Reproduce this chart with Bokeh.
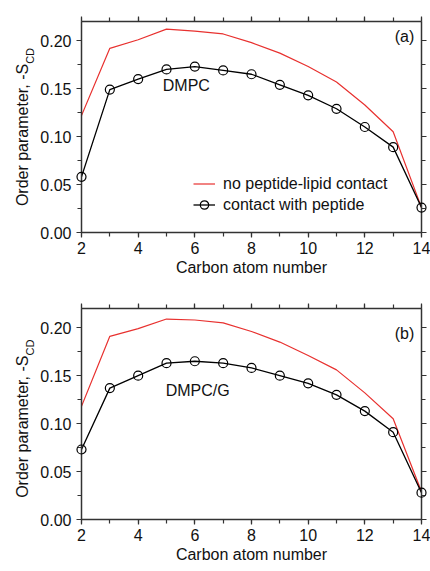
import math
from bokeh.plotting import figure
from bokeh.layouts import column, row
from bokeh.models import (Range1d, LinearAxis, SingleIntervalTicker, NumeralTickFormatter,
                          CustomJSTickFormatter, Label, Legend, LegendItem)
from bokeh.core.properties import value
from bokeh.embed import file_html
from bokeh.resources import INLINE

carbon = [2, 3, 4, 5, 6, 7, 8, 9, 10, 11, 12, 13, 14]

# panel (a) DMPC
a_no_contact = [0.122, 0.192, 0.201, 0.212, 0.210, 0.207, 0.198, 0.187, 0.173, 0.157, 0.133, 0.105, 0.026]
a_contact = [0.058, 0.149, 0.160, 0.170, 0.173, 0.169, 0.165, 0.154, 0.143, 0.129, 0.110, 0.089, 0.026]

# panel (b) DMPC/G
b_no_contact = [0.118, 0.191, 0.199, 0.209, 0.208, 0.205, 0.196, 0.185, 0.171, 0.156, 0.132, 0.105, 0.029]
b_contact = [0.073, 0.137, 0.150, 0.163, 0.165, 0.163, 0.158, 0.150, 0.142, 0.130, 0.113, 0.091, 0.028]

legend_labels = ["no peptide-lipid contact", "contact with peptide"]
x_label = "Carbon atom number"
y_label_main = "Order parameter, -S"
y_label_sub = "CD"

FONT = "Liberation Sans"
AX = "#333333"
TXT = "#111111"
RED = "#e8312f"
FS = "16px"

LAB_W = 36
FRAME_W, FRAME_H = 340, 211
BOTTOM = 47


def style_axis(ax, labels=True):
    ax.axis_line_color = AX
    ax.axis_line_width = 1.5
    ax.major_tick_line_color = AX
    ax.minor_tick_line_color = AX
    ax.major_tick_in = 0
    ax.major_tick_out = 5
    ax.minor_tick_in = 0
    ax.minor_tick_out = 4
    ax.major_tick_line_width = 1.2
    ax.minor_tick_line_width = 1.2
    ax.major_label_text_font = FONT
    ax.major_label_text_color = TXT
    ax.major_label_text_font_size = FS
    if not labels:
        ax.formatter = CustomJSTickFormatter(code="return ''")
        ax.major_label_standoff = 0


def make_label_fig(height):
    lf = figure(width=LAB_W, height=height, output_backend="svg", toolbar_location=None,
                x_range=Range1d(0, LAB_W), y_range=Range1d(0, height),
                x_axis_location=None, y_axis_location=None,
                min_border=0, min_border_left=0, min_border_right=0,
                min_border_top=0, min_border_bottom=0)
    lf.grid.visible = False
    lf.outline_line_color = None
    lf.text(x=[22], y=[height - (height - FRAME_H - BOTTOM) - 35], text=[y_label_main],
            angle=math.pi / 2, text_font=value(FONT), text_font_size=FS,
            text_align="right", text_baseline="middle", text_color=TXT)
    lf.text(x=[29], y=[height - (height - FRAME_H - BOTTOM) - 35], text=[y_label_sub],
            angle=math.pi / 2, text_font=value(FONT), text_font_size="11px",
            text_align="left", text_baseline="middle", text_color=TXT)
    return lf


def make_panel(no_contact, contact, name, tag, top_border, name_xy, tag_xy, legend=False):
    p = figure(frame_width=FRAME_W, frame_height=FRAME_H, output_backend="svg", toolbar_location=None,
               x_range=Range1d(2, 14), y_range=Range1d(0, 0.22),
               x_axis_location=None, y_axis_location=None,
               min_border_left=81 - LAB_W, min_border_right=9, min_border_top=top_border,
               min_border_bottom=BOTTOM)
    p.grid.visible = False
    p.outline_line_color = None
    p.background_fill_color = "white"

    xb = LinearAxis(ticker=SingleIntervalTicker(interval=2, num_minor_ticks=2), axis_label=x_label)
    style_axis(xb)
    xb.major_label_standoff = 4
    xb.axis_label_text_font = FONT
    xb.axis_label_text_font_style = "normal"
    xb.axis_label_text_font_size = FS
    xb.axis_label_standoff = 2
    xb.axis_label_text_color = TXT
    p.add_layout(xb, "below")

    xa = LinearAxis(ticker=SingleIntervalTicker(interval=2, num_minor_ticks=2))
    style_axis(xa, labels=False)
    p.add_layout(xa, "above")

    yl = LinearAxis(ticker=SingleIntervalTicker(interval=0.05, num_minor_ticks=2),
                    formatter=NumeralTickFormatter(format="0.00"))
    style_axis(yl)
    yl.major_label_standoff = 5
    p.add_layout(yl, "left")

    yr = LinearAxis(ticker=SingleIntervalTicker(interval=0.05, num_minor_ticks=2))
    style_axis(yr, labels=False)
    p.add_layout(yr, "right")

    r_red = p.line(carbon, no_contact, line_color=RED, line_width=1.2)
    r_blk = p.line(carbon, contact, line_color="black", line_width=1.3)
    r_pts = p.scatter(carbon, contact, marker="circle", size=9, fill_color=None,
                      line_color="black", line_width=1.2)
    r_pts.level = "overlay"

    p.add_layout(Label(x=name_xy[0], y=name_xy[1], text=name, text_font=FONT,
                       text_font_size=FS, text_align="center", text_baseline="middle",
                       text_color=TXT))
    p.add_layout(Label(x=tag_xy[0], y=tag_xy[1], text=tag, text_font=FONT,
                       text_font_size=FS, text_align="center", text_baseline="middle",
                       text_color=TXT))

    if legend:
        lg = Legend(items=[LegendItem(label=legend_labels[0], renderers=[r_red]),
                           LegendItem(label=legend_labels[1], renderers=[r_blk, r_pts])],
                    location=(112, 17), orientation="vertical")
        lg.background_fill_alpha = 0
        lg.border_line_color = None
        lg.label_text_font = FONT
        lg.label_text_font_size = FS
        lg.label_text_color = TXT
        lg.glyph_width = 22
        lg.glyph_height = 21
        lg.label_height = 21
        lg.label_standoff = 8
        lg.spacing = 0
        lg.padding = 0
        lg.margin = 0
        p.add_layout(lg)
    return p


TOP_A, TOP_B = 21, 29
pa = make_panel(a_no_contact, a_contact, "DMPC", "(a)", TOP_A, (5.7, 0.153), (13.4, 0.204), legend=True)
pb = make_panel(b_no_contact, b_contact, "DMPC/G", "(b)", TOP_B, (6.1, 0.134), (13.4, 0.194))
la = make_label_fig(TOP_A + FRAME_H + BOTTOM)
lb = make_label_fig(TOP_B + FRAME_H + BOTTOM)

layout = column(row(la, pa, spacing=0), row(lb, pb, spacing=0), spacing=0)
open("out.html", "w").write(file_html(layout, INLINE))
